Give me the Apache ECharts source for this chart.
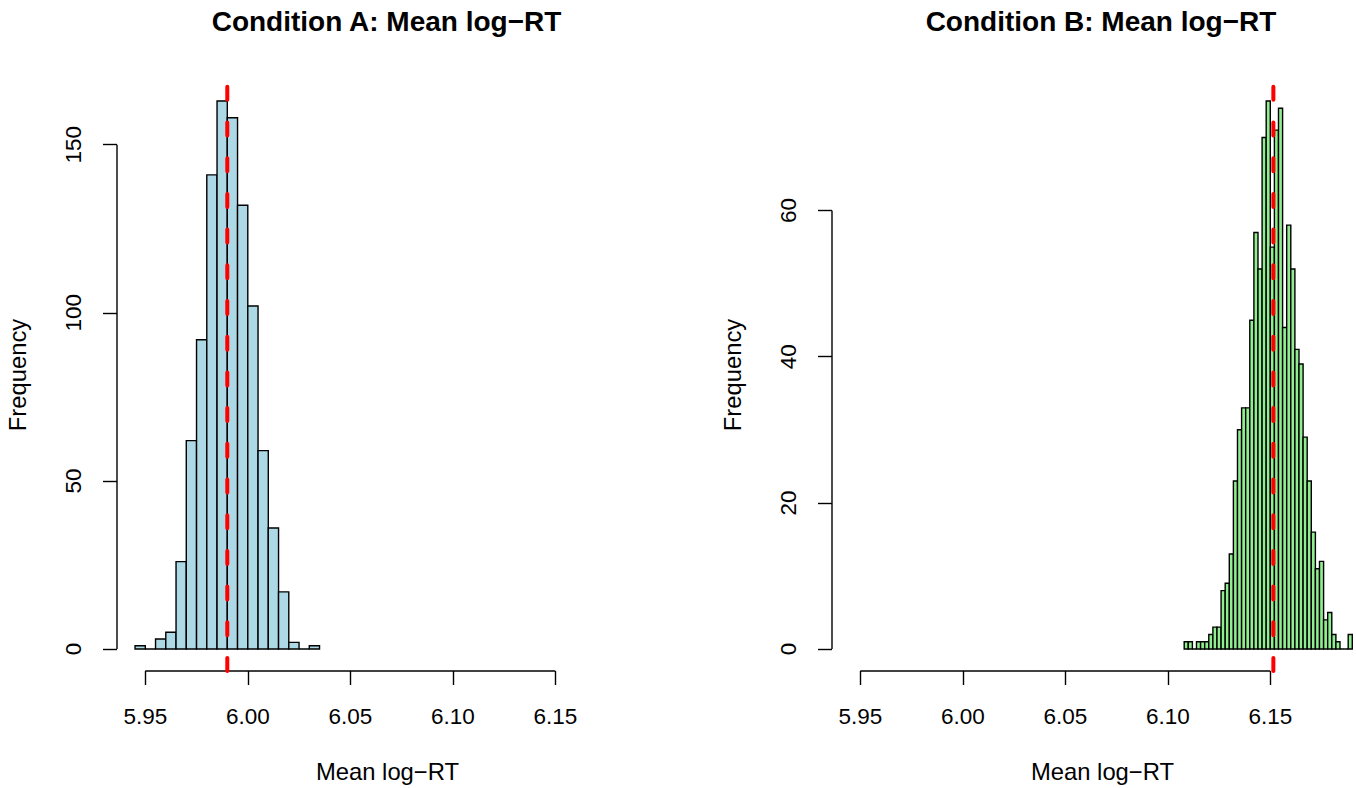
<!DOCTYPE html>
<html>
<head>
<meta charset="utf-8">
<script src="https://cdn.jsdelivr.net/npm/echarts@6/dist/echarts.min.js"></script>
<style>
html,body{margin:0;padding:0;background:#fff;overflow:hidden;width:1356px;height:788px;}
#chart{width:1430px;height:788px;}
</style>
</head>
<body>
<div id="chart"></div>
<script>
// ---------- data ----------
const titles = ['Condition A: Mean log\u2212RT', 'Condition B: Mean log\u2212RT'];
const xName = 'Mean log\u2212RT';
const yName = 'Frequency';

const breaksA = [5.945, 5.950, 5.955, 5.960, 5.965, 5.970, 5.975, 5.980, 5.985, 5.990,
                 5.995, 6.000, 6.005, 6.010, 6.015, 6.020, 6.025, 6.030, 6.035];
const countsA = [1, 0, 3, 5, 26, 62, 92, 141, 163, 158, 132, 102, 59, 36, 17, 2, 0, 1];

const breaksB = [6.108, 6.110, 6.112, 6.114, 6.116, 6.118, 6.120, 6.122, 6.124, 6.126,
                 6.128, 6.130, 6.132, 6.134, 6.136, 6.138, 6.140, 6.142, 6.144, 6.146,
                 6.148, 6.150, 6.152, 6.154, 6.156, 6.158, 6.160, 6.162, 6.164, 6.166,
                 6.168, 6.170, 6.172, 6.174, 6.176, 6.178, 6.180, 6.182, 6.184, 6.186,
                 6.188, 6.190];
const countsB = [1, 1, 0, 1, 1, 1, 2, 3, 3, 8, 9, 13, 23, 30, 33, 33, 45, 57, 52, 70,
                 75, 55, 71, 74, 44, 58, 52, 41, 39, 29, 23, 16, 11, 12, 4, 5, 2, 1, 0, 0, 2];

const meanA = 5.990;
const meanB = 6.1515;

const xTicks = [5.95, 6.00, 6.05, 6.10, 6.15];
const yTicksA = [0, 50, 100, 150];
const yTicksB = [0, 20, 40, 60];

// plot-region ranges (R style: 4% extension)
const xRange = [5.9362, 6.2001];
const yRangeA = [-6.52, 169.52];
const yRangeB = [-3, 78];

// ---------- chart ----------
const FONT = 'Liberation Sans, Arial, Helvetica, sans-serif';
const chart = echarts.init(document.getElementById('chart'), null, {renderer: 'svg', width: 1430, height: 788});

function barRenderer(fill) {
  return function (params, api) {
    const x0 = api.value(0), x1 = api.value(1), c = api.value(2);
    const pTop = api.coord([x0, c]);
    const pBot = api.coord([x1, 0]);
    return {
      type: 'rect',
      shape: {x: pTop[0], y: pTop[1], width: pBot[0] - pTop[0], height: pBot[1] - pTop[1]},
      style: {fill: fill, stroke: '#000', lineWidth: 1.4}
    };
  };
}

function histData(breaks, counts) {
  return counts.map((c, i) => [breaks[i], breaks[i + 1], c]);
}

const grids = [
  {left: 117, top: 79, width: 541, height: 594},
  {left: 832, top: 79, width: 541, height: 594}
];

function makeX(idx) {
  return {
    type: 'value', gridIndex: idx, min: xRange[0], max: xRange[1], position: 'bottom',
    axisLine: {show: false, onZero: false}, splitLine: {show: false},
    axisTick: {show: true, customValues: xTicks, length: 14, lineStyle: {color: '#000', width: 1.4}},
    axisLabel: {customValues: xTicks, formatter: v => v.toFixed(2), margin: 34,
                fontSize: 22.5, color: '#000', fontFamily: FONT},
    name: xName, nameLocation: 'middle', nameGap: 88,
    nameTextStyle: {fontSize: 23.8, color: '#000', fontFamily: FONT}
  };
}
function makeY(idx, range, ticks) {
  return {
    type: 'value', gridIndex: idx, min: range[0], max: range[1], position: 'left',
    axisLine: {show: false, onZero: false}, splitLine: {show: false},
    axisTick: {show: true, customValues: ticks, length: 14, lineStyle: {color: '#000', width: 1.4}},
    axisLabel: {customValues: ticks, rotate: 90, margin: 32,
                fontSize: 22.5, color: '#000', fontFamily: FONT},
    name: yName, nameLocation: 'middle', nameRotate: 90, nameGap: 88,
    nameTextStyle: {fontSize: 23.8, color: '#000', fontFamily: FONT}
  };
}

function axisSegments(idx, yRange, yTicks) {
  return [
    {type: 'line', xAxisIndex: idx, yAxisIndex: idx, symbol: 'none', clip: false, silent: true,
     data: [[xTicks[0], yRange[0]], [xTicks[xTicks.length - 1], yRange[0]]],
     lineStyle: {color: '#000', width: 1.4}, z: 5},
    {type: 'line', xAxisIndex: idx, yAxisIndex: idx, symbol: 'none', clip: false, silent: true,
     data: [[xRange[0], yTicks[0]], [xRange[0], yTicks[yTicks.length - 1]]],
     lineStyle: {color: '#000', width: 1.4}, z: 5}
  ];
}

function meanLine(idx, m, yRange) {
  return {type: 'line', xAxisIndex: idx, yAxisIndex: idx, symbol: 'none', silent: true,
          data: [[m, yRange[0]], [m, yRange[1]]],
          lineStyle: {color: '#FF0000', width: 4, type: [13, 22.7], cap: 'round'}, z: 10};
}

const option = {
  backgroundColor: '#fff',
  animation: false,
  title: [
    {text: titles[0], left: 381.5, top: 2, textAlign: 'center',
     textStyle: {fontSize: 28, fontWeight: 'bold', color: '#000', fontFamily: FONT}},
    {text: titles[1], left: 1096, top: 2, textAlign: 'center',
     textStyle: {fontSize: 28, fontWeight: 'bold', color: '#000', fontFamily: FONT}}
  ],
  grid: grids,
  xAxis: [makeX(0), makeX(1)],
  yAxis: [makeY(0, yRangeA, yTicksA), makeY(1, yRangeB, yTicksB)],
  series: [
    {type: 'custom', xAxisIndex: 0, yAxisIndex: 0, renderItem: barRenderer('#ADD8E6'),
     encode: {x: [0, 1], y: 2}, data: histData(breaksA, countsA), z: 2},
    {type: 'custom', xAxisIndex: 1, yAxisIndex: 1, renderItem: barRenderer('#90EE90'),
     encode: {x: [0, 1], y: 2}, data: histData(breaksB, countsB), z: 2},
    ...axisSegments(0, yRangeA, yTicksA),
    ...axisSegments(1, yRangeB, yTicksB),
    meanLine(0, meanA, yRangeA),
    meanLine(1, meanB, yRangeB)
  ]
};
chart.setOption(option);
</script>
</body>
</html>
